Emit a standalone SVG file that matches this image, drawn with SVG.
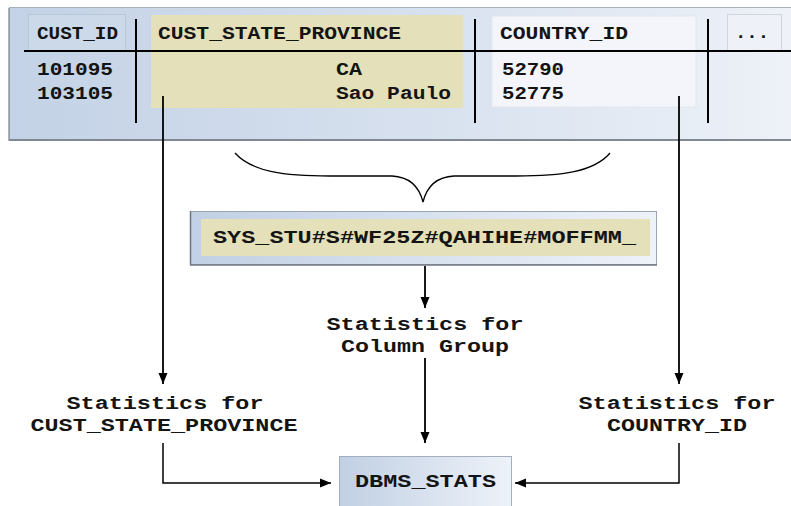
<svg xmlns="http://www.w3.org/2000/svg" width="791" height="506" viewBox="0 0 791 506">
<style>
text{font-family:"Liberation Mono","Courier New",monospace;font-weight:bold;fill:#141414;font-size:19px}
.sep{stroke:#000;stroke-width:2;fill:none}
.con{stroke:#000;stroke-width:1.8;fill:none}
.conl{stroke:#000;stroke-width:1.5;fill:none}
.yel{fill:#e4e0b9}
.mid{text-anchor:middle}
</style>
<defs>
<linearGradient id="gPanel" x1="0" y1="0" x2="1" y2="0">
<stop offset="0" stop-color="#c3d2e6"/>
<stop offset="0.5" stop-color="#d6e0ee"/>
<stop offset="1" stop-color="#eef2f8"/>
</linearGradient>
<linearGradient id="gBox" x1="0" y1="0" x2="1" y2="0">
<stop offset="0" stop-color="#c1d0e4"/>
<stop offset="1" stop-color="#eef2f9"/>
</linearGradient>
<marker id="arr" markerWidth="12" markerHeight="10" refX="11" refY="5" orient="auto" markerUnits="userSpaceOnUse">
<path d="M0,0.5 L11,5 L0,9.5 Z" fill="#000"/>
</marker>
</defs>

<g id="table">
<rect x="9.5" y="7.5" width="790" height="132" fill="url(#gPanel)" stroke="#a9b2bf"/>
<line x1="9" y1="140" x2="791" y2="140" stroke="#7f8893" stroke-width="2"/>
<line x1="9" y1="8" x2="9" y2="141" stroke="#8f98a4" stroke-width="1.5"/>
<rect x="28.5" y="14.5" width="97" height="37" fill="#ccd9e9" stroke="#b8c6d8"/>
<rect x="151" y="15" width="312" height="93" class="yel"/>
<rect x="492" y="16" width="204" height="91" fill="#f3f5fa" stroke="#e2e7ef"/>
<rect x="727.5" y="14.5" width="54" height="37" fill="#eef1f7" stroke="#cfd6df"/>
<line class="sep" x1="24" y1="51" x2="791" y2="51"/>
<line class="sep" x1="136" y1="19" x2="136" y2="123"/>
<line class="sep" x1="475" y1="19" x2="475" y2="123"/>
<line class="sep" x1="708" y1="19" x2="708" y2="123"/>
<text x="37" y="39" textLength="81" lengthAdjust="spacingAndGlyphs">CUST_ID</text>
<text x="158" y="39" textLength="243" lengthAdjust="spacingAndGlyphs">CUST_STATE_PROVINCE</text>
<text x="500" y="39" textLength="128" lengthAdjust="spacingAndGlyphs">COUNTRY_ID</text>
<text x="752" y="38" class="mid">...</text>
<text x="37" y="75" textLength="76" lengthAdjust="spacingAndGlyphs">101095</text>
<text x="37" y="99" textLength="76" lengthAdjust="spacingAndGlyphs">103105</text>
<text x="336" y="75" textLength="26" lengthAdjust="spacingAndGlyphs">CA</text>
<text x="336" y="99" textLength="115" lengthAdjust="spacingAndGlyphs">Sao Paulo</text>
<text x="502" y="75" textLength="62" lengthAdjust="spacingAndGlyphs">52790</text>
<text x="502" y="99" textLength="62" lengthAdjust="spacingAndGlyphs">52775</text>
</g>

<g id="brace">
<path d="M235,153 C252,172 285,176 330,176 L392,176 C412,177 420,190 423,202 C426,190 434,177 454,176 L516,176 C561,176 594,172 610,153" fill="none" stroke="#000" stroke-width="1.3"/>
</g>

<g id="column-group">
<rect x="190.5" y="211.5" width="466" height="53" fill="url(#gBox)" stroke="#9aa4b2"/>
<line x1="190" y1="265" x2="657" y2="265" stroke="#6f7782" stroke-width="1.5"/>
<line x1="190.5" y1="211" x2="190.5" y2="265" stroke="#6f7782" stroke-width="1.5"/>
<rect x="201" y="219" width="449" height="37" class="yel"/>
<text x="213" y="243" textLength="423" lengthAdjust="spacingAndGlyphs">SYS_STU#S#WF25Z#QAHIHE#MOFFMM_</text>
</g>

<g id="stats-group">
<text x="425" y="330" class="mid" textLength="197" lengthAdjust="spacingAndGlyphs">Statistics for</text>
<text x="425" y="352" class="mid" textLength="168" lengthAdjust="spacingAndGlyphs">Column Group</text>
</g>

<g id="stats-province">
<text x="165" y="409" class="mid" textLength="197" lengthAdjust="spacingAndGlyphs">Statistics for</text>
<text x="164" y="431" class="mid" textLength="267" lengthAdjust="spacingAndGlyphs">CUST_STATE_PROVINCE</text>
</g>

<g id="stats-country">
<text x="677" y="409" class="mid" textLength="197" lengthAdjust="spacingAndGlyphs">Statistics for</text>
<text x="677" y="431" class="mid" textLength="140" lengthAdjust="spacingAndGlyphs">COUNTRY_ID</text>
</g>

<g id="dbms-stats">
<rect x="339.5" y="456.5" width="172" height="60" fill="url(#gBox)" stroke="#a3afbf"/>
<text x="355" y="487" textLength="141" lengthAdjust="spacingAndGlyphs">DBMS_STATS</text>
</g>

<g id="connectors">
<line class="con" x1="163" y1="96" x2="163" y2="384" marker-end="url(#arr)"/>
<line class="con" x1="679" y1="96" x2="679" y2="384" marker-end="url(#arr)"/>
<line class="con" x1="425" y1="266" x2="425" y2="308" marker-end="url(#arr)"/>
<line class="con" x1="425" y1="358" x2="425" y2="443" marker-end="url(#arr)"/>
<polyline class="conl" points="163,443 163,483 331,483" marker-end="url(#arr)"/>
<polyline class="conl" points="679,443 679,483 515,483" marker-end="url(#arr)"/>
</g>
</svg>
